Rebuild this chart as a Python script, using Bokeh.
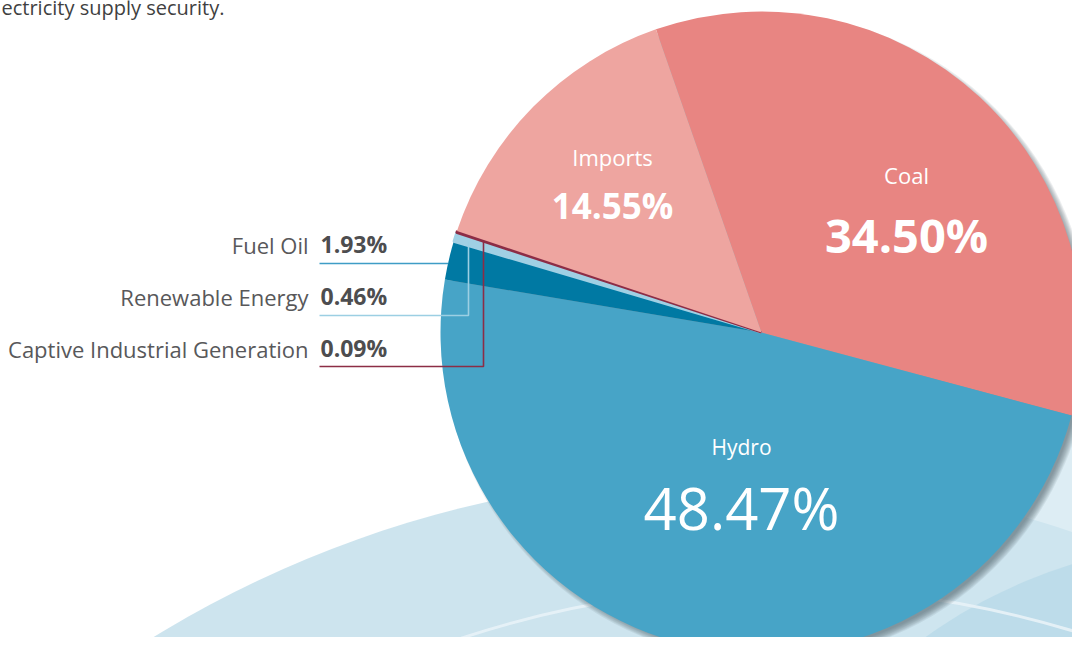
import math
from bokeh.plotting import figure
from bokeh.models import Range1d
from bokeh.core.properties import value
from bokeh.embed import file_html
from bokeh.resources import INLINE

# ---------------- data ----------------
sources = ["Coal", "Hydro", "Fuel Oil", "Renewable Energy",
           "Captive Industrial Generation", "Imports"]
shares = [34.50, 48.47, 1.93, 0.46, 0.09, 14.55]
share_labels = ["34.50%", "48.47%", "1.93%", "0.46%", "0.09%", "14.55%"]
colors = ["#E88582", "#47A4C7", "#0079A3", "#A0D0E4", "#8C2D46", "#EEA5A0"]

inside = ["Coal", "Hydro", "Imports"]
outside = ["Fuel Oil", "Renewable Energy", "Captive Industrial Generation"]
leader_colors = {"Fuel Oil": "#3E9DC6", "Renewable Energy": "#9CCFE3",
                 "Captive Industrial Generation": "#8C2D46"}

# ---------------- layout (pixel space, y down -> negative data y) ----------------
FONT = "Open Sans"
CX, CY, R = 761, 332, 321
START = math.radians(109.2)
BL = 0.40  # baseline compensation factor (fraction of font size)

W, H = 1072, 637
p = figure(width=W, height=H, output_backend="svg", toolbar_location=None,
           x_range=Range1d(0, W), y_range=Range1d(-H, 0), min_border=0)
p.axis.visible = False
p.grid.visible = False
p.outline_line_color = None
p.background_fill_color = "white"
p.border_fill_color = "white"


def put_text(x, baseline, txt, size, color, align, style="normal"):
    p.text(x=[x], y=[-(baseline - BL * size)], text=[txt], text_font=value(FONT),
           text_font_size=f"{size}px", text_font_style=style, text_color=color,
           text_align=align, text_baseline="alphabetic")


# ---------------- background rings ----------------
p.circle(x=[725], y=[-1568], radius=1093, fill_color="#C4DFEB", fill_alpha=0.85,
         line_color=None)
p.circle(x=[1400], y=[-800], radius=642, fill_color="#CFE6F0", fill_alpha=0.7,
         line_color=None)
p.circle(x=[1222], y=[-1050], radius=509, fill_color="#AFD5E5", fill_alpha=0.55,
         line_color=None)
p.circle(x=[778], y=[-1604], radius=1017, fill_color=None, line_color="#E8F2F7",
         line_width=3, line_alpha=0.9)

# ---------------- shadow ----------------
for k in range(8):
    p.circle(x=[CX + 5], y=[-(CY + 5)], radius=R + 3 - k, fill_color="#4E6470",
             fill_alpha=0.11, line_color=None)

# ---------------- pie ----------------
total = sum(shares)
ang = START
mids = {}
for name, s, c in zip(sources, shares, colors):
    sweep = s / total * 2 * math.pi
    hi, lo = ang, ang - sweep
    lw = 2.2 if s < 1 else 0
    p.wedge(x=[CX], y=[-CY], radius=R, start_angle=lo, end_angle=hi,
            direction="anticlock", fill_color=c,
            line_color=c if lw else None, line_width=lw)
    mids[name] = (lo + hi) / 2
    ang = lo

# ---------------- labels inside ----------------
lab_pos = {"Coal": (906, 183, 253, 22, 47, "bold"),
           "Imports": (612, 165, 219, 22, 35, "bold"),
           "Hydro": (741, 455, 530, 21, 58, "normal")}
for name in inside:
    x, yn, yv, fn, fv, wv = lab_pos[name]
    val = share_labels[sources.index(name)]
    put_text(x, yn, name, fn, "white", "center")
    put_text(x, yv, val, fv, "white", "center", wv)

# ---------------- labels outside with leaders ----------------
rows = [253, 305, 357]
under = [263, 315, 366]
verts = [None, 468, 483]
for name, yb, yu, xv in zip(outside, rows, under, verts):
    i = sources.index(name)
    put_text(308, yb, name, 22, "#58585A", "right")
    put_text(320, yb, share_labels[i], 23, "#4D4D4F", "left", "bold")
    col = leader_colors[name]
    if xv is None:
        dy = CY - yu
        xe = CX - math.sqrt(R * R - dy * dy)
        p.line(x=[319, xe], y=[-yu, -yu], line_color=col, line_width=1.6)
    else:
        m = mids[name]
        ye = CY - (xv - CX) * math.tan(m)
        p.line(x=[319, xv, xv], y=[-yu, -yu, -ye], line_color=col, line_width=1.6)

# ---------------- intro text (cut in the reference) ----------------
put_text(1, 15, "ectricity supply security.", 20, "#3F3F41", "left")

open("out.html", "w").write(file_html(p, INLINE))
